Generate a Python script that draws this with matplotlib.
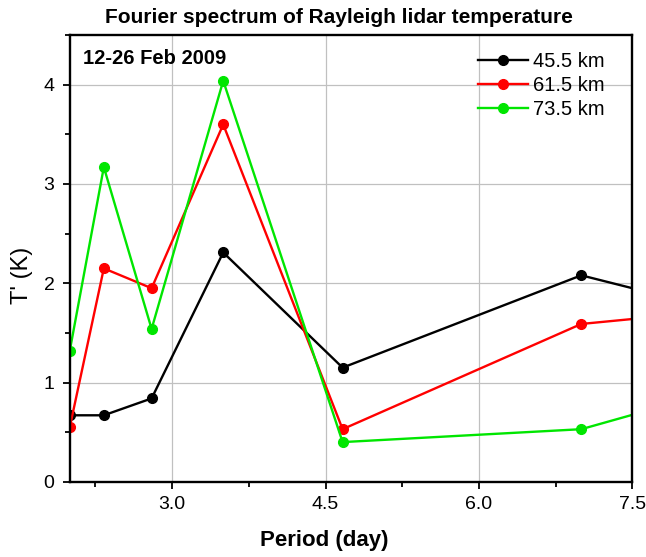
import numpy as np
import matplotlib
matplotlib.use("Agg")
import matplotlib.pyplot as plt
from matplotlib.ticker import MultipleLocator

plt.rcParams["font.family"] = ["Liberation Sans", "DejaVu Sans"]

# Periods (days) of the Fourier components over the 14-day window
period = [2.0, 2.333, 2.8, 3.5, 4.667, 7.0, 14.0]

# Amplitudes T' (K)
t_455 = [0.67, 0.67, 0.84, 2.31, 1.15, 2.08, 0.26]
t_615 = [0.55, 2.15, 1.95, 3.60, 0.53, 1.59, 2.29]
t_735 = [1.32, 3.17, 1.54, 4.04, 0.40, 0.53, 2.56]

labels = ["45.5 km", "61.5 km", "73.5 km"]
colors = ["black", "#ff0000", "#00e600"]

fig = plt.figure(figsize=(6.46, 5.57), dpi=100)
ax = fig.add_axes([0.108, 0.135, 0.871, 0.802])

for y, lab, c in zip([t_455, t_615, t_735], labels, colors):
    ax.plot(period, y, "-o", color=c, lw=1.7, ms=7, label=lab)

ax.set_xlim(2.0, 7.5)
ax.set_ylim(0, 4.5)
ax.set_xticks([3.0, 4.5, 6.0, 7.5])
ax.set_xticklabels(["3.0", "4.5", "6.0", "7.5"])
ax.xaxis.set_minor_locator(MultipleLocator(0.75))
ax.yaxis.set_major_locator(MultipleLocator(1))
ax.yaxis.set_minor_locator(MultipleLocator(0.5))
ax.tick_params(which="major", direction="out", length=5, width=1.3, labelsize=14)
ax.tick_params(which="minor", direction="out", length=3.5, width=1.3)
ax.tick_params(axis="x", which="major", pad=5)
ax.tick_params(axis="y", which="major", pad=6)
ax.grid(True, which="major", color="#c0c0c0", lw=0.9)
for s in ax.spines.values():
    s.set_linewidth(1.7)

fig.text(0.5015, 0.0305, "Period (day)", fontsize=16, fontweight="bold",
         ha="center", va="center")
fig.text(0.034, 0.506, "T' (K)", fontsize=17, rotation=90,
         ha="center", va="center")
fig.text(0.525, 0.969, "Fourier spectrum of Rayleigh lidar temperature",
         fontsize=15, fontweight="bold", ha="center", va="center")
ax.text(0.023, 0.948, "12-26 Feb 2009", transform=ax.transAxes,
        fontsize=14.5, fontweight="bold", va="center")

ax.legend(loc="upper left", bbox_to_anchor=(0.725, 0.962), frameon=False,
          fontsize=14.5, handlelength=2.5, handletextpad=0.25,
          labelspacing=0.25, borderpad=0, borderaxespad=0)

fig.savefig("out.png", dpi=100)
